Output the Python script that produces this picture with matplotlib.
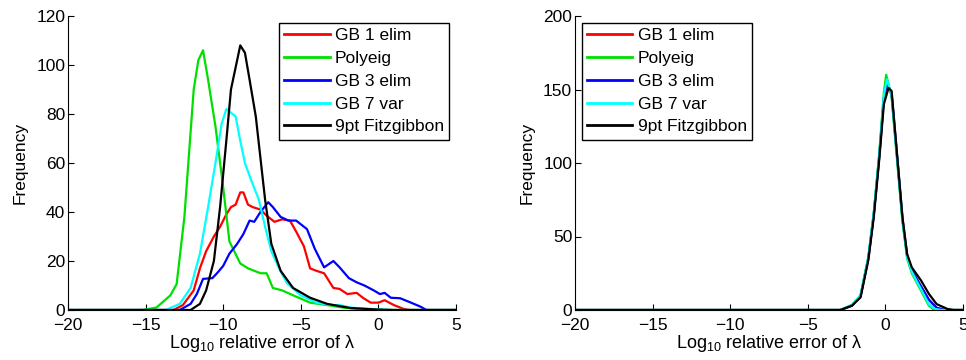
import numpy as np
import matplotlib
matplotlib.use('Agg')
import matplotlib.pyplot as plt

plt.rcParams['font.family'] = ['Liberation Sans', 'DejaVu Sans']
plt.rcParams['mathtext.fontset'] = 'custom'
plt.rcParams['mathtext.rm'] = 'Liberation Sans'
plt.rcParams['mathtext.it'] = 'Liberation Sans'
plt.rcParams['font.size'] = 12.5

names = ['GB 1 elim', 'Polyeig', 'GB 3 elim', 'GB 7 var', '9pt Fitzgibbon']
colors = ['#ff0000', '#00e000', '#0000ff', '#00ffff', '#000000']

# left panel
red_x = [-20, -13.2, -12.6, -11.9, -11.5, -11.1, -10.6, -10.2, -9.8, -9.5, -9.2, -8.9, -8.7, -8.4, -8.1, -7.6,
         -7.2, -6.7, -6.2, -5.7, -5.3, -4.8, -4.4, -4.0, -3.5, -2.9, -2.5, -2.0, -1.4, -1.0, -0.5, 0.0, 0.4,
         1.0, 1.6, 2.0, 5]
red_y = [0, 0, 2, 8, 17, 24, 30, 34, 39, 42, 43, 48, 48, 43, 42, 41,
         38.5, 36, 37, 36.5, 32, 26, 17, 16, 15, 9, 8.6, 6.5, 7, 5, 3, 3, 4,
         2, 0.5, 0, 0]
green_x = [-20, -15.2, -14.3, -13.4, -13.0, -12.5, -11.9, -11.6, -11.3, -11.0, -10.5, -10.0, -9.6, -8.9,
           -8.4, -7.6, -7.2, -6.8, -6.2, -5.5, -4.4, -3.3, -2.3, -1.2, -0.5, 5]
green_y = [0, 0, 1, 6, 10.6, 38, 90, 102, 106, 95, 75, 50, 28, 19,
           17, 15, 15, 9, 8, 6, 3, 2, 1, 0.4, 0, 0]
blue_x = [-20, -12.8, -12.1, -11.7, -11.3, -10.7, -10.4, -10.0, -9.6, -9.1, -8.7, -8.3, -8.0, -7.6, -7.1,
          -6.8, -6.3, -5.8, -5.3, -4.6, -4.1, -3.5, -2.9, -2.5, -1.9, -1.4, -0.9, -0.3, 0.1, 0.4, 0.8, 1.4,
          2.1, 2.7, 3.1, 5]
blue_y = [0, 0, 2.5, 6.5, 12.7, 13, 15, 18, 23, 27, 31, 36.5, 36, 40, 44,
          42, 38, 36.5, 36.5, 33, 25, 17.4, 20, 17.4, 13, 11.3, 10, 8, 6.5, 7, 5, 4.8,
          3, 1.4, 0, 0]
cyan_x = [-20, -13.7, -12.8, -12.1, -11.5, -11.0, -10.5, -10.1, -9.8, -9.6, -9.2, -8.9, -8.6, -8.2, -7.7,
          -7.3, -6.9, -6.4, -5.9, -5.0, -4.0, -3.0, -2.5, -1.8, -0.7, 1.0, 5]
cyan_y = [0, 0, 2.5, 9, 23, 41, 60, 76, 82, 81, 79, 69, 60, 53, 45,
          34, 24, 17, 11, 6, 3, 2, 2, 1, 0.5, 0, 0]
black_x = [-20, -12.1, -11.5, -11.1, -10.6, -10.2, -9.8, -9.5, -9.1, -8.9, -8.6, -8.3, -7.9, -7.6, -7.3,
           -6.9, -6.3, -5.5, -4.4, -3.3, -1.8, -0.1, 1.0, 5]
black_y = [0, 0, 2.5, 8, 20, 42, 69, 90, 102, 108, 105, 94, 79, 62, 45,
           27, 16, 9, 5, 2.5, 0.8, 0.2, 0, 0]

# right panel
r_black_x = [-20, -2.9, -2.15, -1.6, -1.1, -0.75, -0.4, -0.1, 0.2, 0.4, 0.75, 1.1, 1.4, 1.7, 2.3, 2.8, 3.3, 4.0, 4.4, 5]
r_black_y = [0, 0, 3, 8.6, 34, 63, 102, 140, 151, 149, 106, 63, 38, 29, 20, 11, 4, 0.7, 0, 0]
r_green_x = [-20, -2.9, -2.15, -1.6, -1.1, -0.75, -0.4, -0.1, 0.05, 0.4, 0.75, 1.1, 1.4, 1.7, 2.3, 2.8, 3.1, 3.5, 5]
r_green_y = [0, 0, 3.5, 10, 36, 66, 106, 148, 160, 145, 102, 60, 35, 25, 13, 3, 0.5, 0, 0]
r_cyan_x = [-20, -2.9, -2.15, -1.6, -1.1, -0.75, -0.4, -0.1, 0.1, 0.4, 0.75, 1.1, 1.4, 1.7, 2.3, 2.8, 3.2, 3.6, 5]
r_cyan_y = [0, 0, 3.5, 10, 36, 66, 105, 146, 157, 146, 104, 61, 36, 26, 14, 4, 0.7, 0, 0]
r_blue_x = [-20, -2.9, -2.15, -1.6, -1.1, -0.75, -0.4, -0.1, 0.1, 0.4, 0.75, 1.1, 1.4, 1.7, 2.3, 2.8, 3.3, 3.8, 5]
r_blue_y = [0, 0, 3, 9.5, 35, 65, 104, 144, 155, 147, 105, 62, 37, 27, 16, 7, 1.5, 0, 0]
r_red_x = r_blue_x
r_red_y = [0, 0, 3, 9.5, 35, 65, 104, 143, 153, 147, 105, 62, 37, 27, 16, 7, 1.5, 0, 0]

left = [(red_x, red_y), (green_x, green_y), (blue_x, blue_y), (cyan_x, cyan_y), (black_x, black_y)]
right = [(r_red_x, r_red_y), (r_green_x, r_green_y), (r_blue_x, r_blue_y), (r_cyan_x, r_cyan_y), (r_black_x, r_black_y)]

fig = plt.figure(figsize=(9.66, 3.6), dpi=100)
ax1 = fig.add_axes([68/966, 50/360, 388/966, 294/360])
ax2 = fig.add_axes([575/966, 50/360, 388/966, 294/360])

for ax, data, ymax, ystep, loc in [(ax1, left, 120, 20, 'upper right'), (ax2, right, 200, 50, 'upper left')]:
    for (x, y), c, n in zip(data, colors, names):
        ax.plot(x, y, color=c, lw=1.6, label=n)
    ax.set_xlim(-20, 5)
    ax.set_ylim(0, ymax)
    ax.set_xticks(np.arange(-20, 6, 5))
    ax.set_yticks(np.arange(0, ymax + 1, ystep))
    ax.set_xticklabels(['\u221220', '\u221215', '\u221210', '\u22125', '0', '5'])
    ax.spines['top'].set_visible(False)
    ax.spines['right'].set_visible(False)
    ax.tick_params(direction='in', length=4, width=0.8, pad=2)
    ax.tick_params(axis='x', pad=6)
    ax.set_xlabel('Log$_{10}$ relative error of \u03bb', labelpad=0, fontsize=13)
    ax.set_ylabel('Frequency', labelpad=6)
    leg = ax.legend(loc=loc, fancybox=False, edgecolor='black', framealpha=1,
                    handlelength=2.6, handletextpad=0.3, borderpad=0.3, labelspacing=0.44,
                    borderaxespad=0.4)
    leg.get_frame().set_linewidth(1.0)
    for l in leg.get_lines():
        l.set_linewidth(2.0)

fig.savefig('out.png', dpi=100)
